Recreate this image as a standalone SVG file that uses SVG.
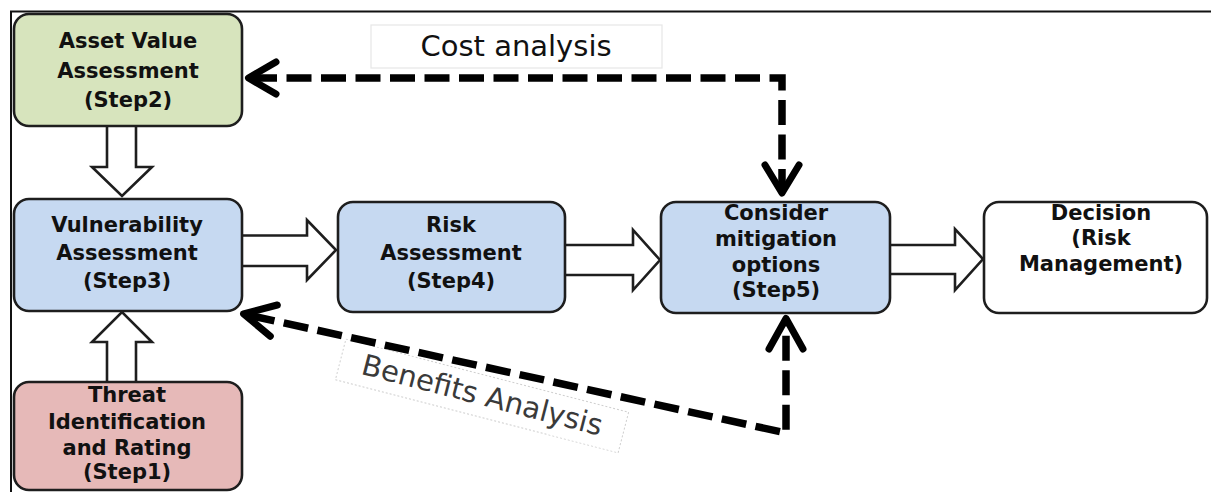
<svg xmlns="http://www.w3.org/2000/svg" width="1211" height="492" viewBox="0 0 1211 492">
<style>
.box{stroke:#1e1e1e;stroke-width:2.6}
.lbl{font-family:"DejaVu Sans",Verdana,sans-serif;font-weight:bold;font-size:21px;fill:#111;text-anchor:middle}
.blk{fill:#fff;stroke:#1e1e1e;stroke-width:2.6;stroke-linejoin:miter}
.dash{fill:none;stroke:#000;stroke-width:7.5;stroke-dasharray:25 9.5}
.head{fill:none;stroke:#000;stroke-width:7;stroke-linecap:round;stroke-linejoin:round}
.note{font-family:"DejaVu Sans",Verdana,sans-serif;font-size:29px;text-anchor:middle}
</style>
<rect x="0" y="0" width="1211" height="492" fill="#fff"/>
<path d="M11,492 V11.5 H1211" fill="none" stroke="#111" stroke-width="2"/>

<g id="labels">
  <g id="cost-label">
    <rect x="371" y="25" width="291" height="43" fill="#fff" stroke="#e6e6e6" stroke-width="1.2"/>
    <text class="note" x="516" y="56" fill="#111">Cost analysis</text>
  </g>
  <g id="benefits-label" transform="translate(482,396) rotate(14.5)">
    <rect x="-146" y="-21" width="292" height="42" fill="#fff" stroke="#cfcfcf" stroke-width="1" stroke-dasharray="2 2"/>
    <text class="note" x="0" y="9" fill="#3a3a3a">Benefits Analysis</text>
  </g>
</g>

<g id="connectors">
  <path class="blk" d="M107,126 V167 H92 L122,196 L152,167 H136 V126"/>
  <path class="blk" d="M107,382 V342 H92 L122,312 L152,342 H136 V382"/>
  <path class="blk" d="M242,235.5 H307 V220 L336,250 L307,280 V266 H242"/>
  <path class="blk" d="M564,245 H633 V230 L660,260 L633,290 V275 H564"/>
  <path class="blk" d="M889,245 H955 V229 L983,259 L955,290 V274 H889"/>
  <path class="dash" d="M252,78 H782 V190"/>
  <path class="head" d="M276,62 L248.5,78 L276,94"/>
  <path class="head" d="M765,165 L782,193 L799,165"/>
  <path class="dash" d="M250,315.5 L786,433 V324"/>
  <path class="head" d="M277.3,305 L243.5,313.8 L270.3,336.2"/>
  <path class="head" d="M769,349 L786,318.5 L803,349"/>
</g>

<g id="asset">
  <rect class="box" x="14" y="14" width="228" height="112" rx="15" fill="#d7e4bd"/>
  <text class="lbl" x="128" y="48">Asset Value</text>
  <text class="lbl" x="128" y="78">Assessment</text>
  <text class="lbl" x="128" y="107">(Step2)</text>
</g>
<g id="vulnerability">
  <rect class="box" x="14" y="199" width="228" height="112" rx="15" fill="#c6d9f1"/>
  <text class="lbl" x="127" y="232">Vulnerability</text>
  <text class="lbl" x="127" y="260">Assessment</text>
  <text class="lbl" x="127" y="288">(Step3)</text>
</g>
<g id="threat">
  <rect class="box" x="14" y="382" width="228" height="108" rx="15" fill="#e6b9b8"/>
  <text class="lbl" x="127" y="402">Threat</text>
  <text class="lbl" x="127" y="428.5">Identification</text>
  <text class="lbl" x="127" y="455">and Rating</text>
  <text class="lbl" x="127" y="479">(Step1)</text>
</g>
<g id="risk">
  <rect class="box" x="338" y="202" width="227" height="110" rx="15" fill="#c6d9f1"/>
  <text class="lbl" x="451" y="232">Risk</text>
  <text class="lbl" x="451" y="260">Assessment</text>
  <text class="lbl" x="451" y="288">(Step4)</text>
</g>
<g id="mitigation">
  <rect class="box" x="661" y="202" width="229" height="111" rx="15" fill="#c6d9f1"/>
  <text class="lbl" x="776" y="220">Consider</text>
  <text class="lbl" x="776" y="245.5">mitigation</text>
  <text class="lbl" x="776" y="271.5">options</text>
  <text class="lbl" x="776" y="297">(Step5)</text>
</g>
<g id="decision">
  <rect class="box" x="984" y="202" width="223" height="111" rx="15" fill="#fff"/>
  <text class="lbl" x="1101" y="220">Decision</text>
  <text class="lbl" x="1101" y="245">(Risk</text>
  <text class="lbl" x="1101" y="271">Management)</text>
</g>
</svg>
